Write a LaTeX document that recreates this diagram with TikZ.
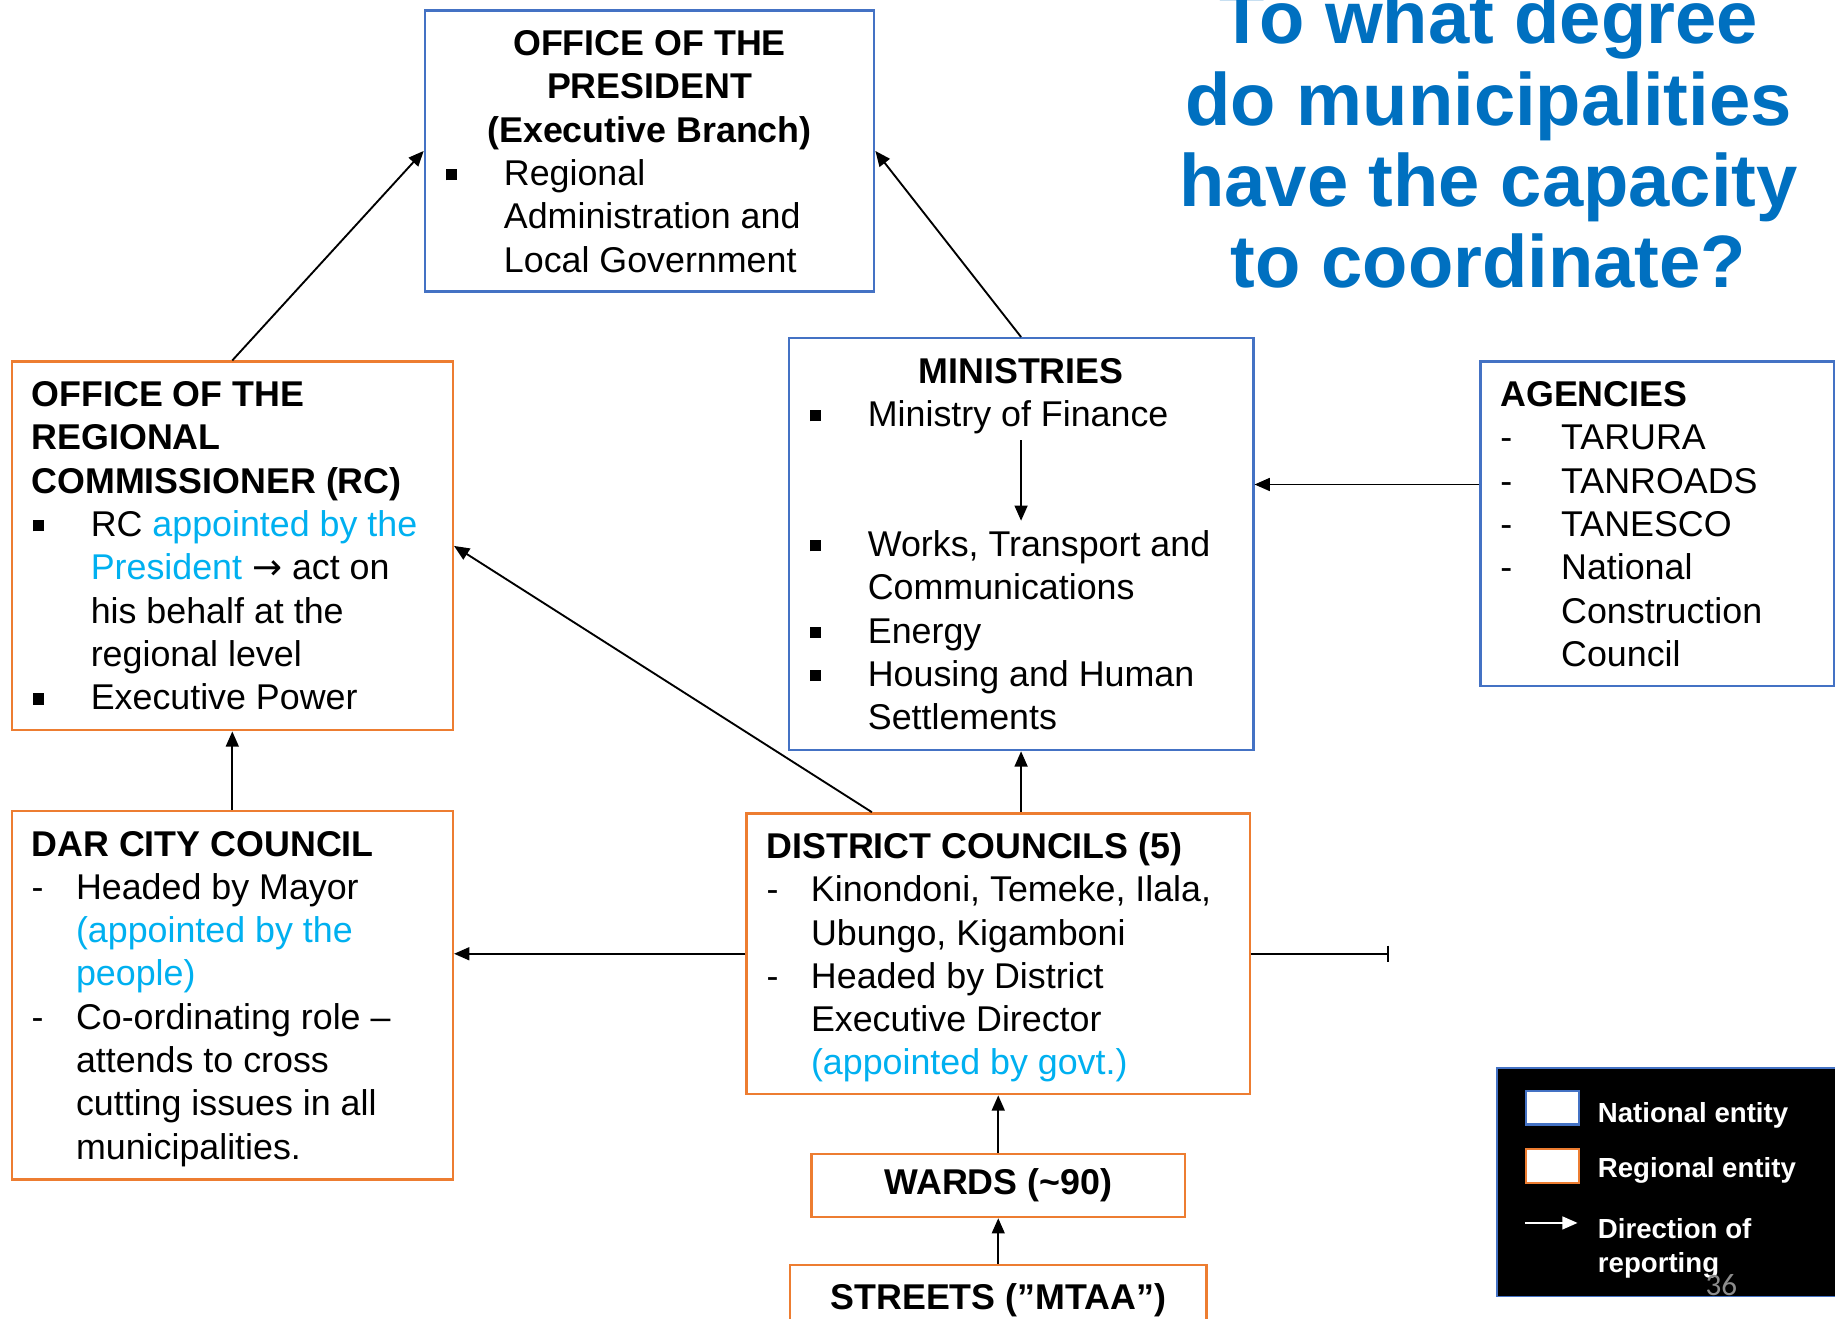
\documentclass[tikz,border=0pt]{standalone}
\usepackage{fontspec}
\setmainfont{Liberation Sans}
\newfontfamily\slidenum{Carlito}
\newfontfamily\arrowfont{DejaVu Sans}
\usetikzlibrary{positioning,calc,arrows.meta}

\definecolor{natblue}{HTML}{4472C4}
\definecolor{regorange}{HTML}{ED7D31}
\definecolor{headblue}{HTML}{0070C0}
\definecolor{apptblue}{HTML}{00B0F0}

% box contents: width, height, lines
\newcommand{\boxbody}[3]{\parbox[t][#2][t]{#1}{\raggedright\strut#3}}
\newcommand{\sqitem}{\makebox[25.3pt][l]{\hspace{0.5pt}\rule[2.2pt]{4.8pt}{4.8pt}}}
\newcommand{\dashitem}[1][19pt]{\makebox[#1][l]{-}}
\newcommand{\contline}[1][25.3pt]{\hspace*{#1}}
\newcommand{\appt}[1]{\textcolor{apptblue}{#1}}

\begin{document}
\begin{tikzpicture}[x=0.5pt, y=-0.5pt, font=\fontsize{15.3}{18.5}\selectfont,
  national/.style={draw=natblue, line width=1pt, anchor=north west, inner xsep=8.5pt, inner ysep=6.3pt},
  regional/.style={national, draw=regorange},
  tag/.style={draw=regorange, line width=1pt, font=\fontsize{15.3}{18.5}\selectfont\bfseries},
  flow/.style={-{Triangle[length=6.5pt,width=5.5pt]}, line width=0.8pt},
  keytext/.style={text=white, font=\fontsize{11.8}{14.5}\selectfont\bfseries, anchor=base west, inner sep=0pt, align=left}]
  \path[use as bounding box, clip] (0,0) rectangle (1568,1127);
  \fill[white] (0,0) rectangle (1568,1127);

  % question (base = last line)
  \node[anchor=base, align=center, text=headblue, font=\fontsize{31.7}{34.75}\selectfont\bfseries] (q) at (1272,246)
    {To what degree\\do municipalities\\have the capacity\\to coordinate?};

  % national level
  \node[national] (pres) at (362,8) {\boxbody{175pt}{107.4pt}{%
    {\centering\bfseries OFFICE OF THE\\PRESIDENT\\(Executive Branch)\par}
    \sqitem Regional\\
    \contline Administration and\\
    \contline Local Government}};
  \node[national] (min) at (673,288) {\boxbody{181.5pt}{163.4pt}{%
    {\centering\bfseries MINISTRIES\par}
    \sqitem Ministry of Finance\\[37pt]
    \sqitem Works, Transport and\\
    \contline Communications\\
    \sqitem Energy\\
    \sqitem Housing and Human\\
    \contline Settlements}};
  \node[national] (ag) at (1264,308) {\boxbody{134pt}{125.9pt}{%
    {\bfseries AGENCIES}\\
    \dashitem[26pt]TARURA\\
    \dashitem[26pt]TANROADS\\
    \dashitem[26pt]TANESCO\\
    \dashitem[26pt]National\\
    \contline[26pt]Construction\\
    \contline[26pt]Council}};

  % regional level
  \node[regional] (rc) at (9,308) {\boxbody{171.5pt}{144.9pt}{%
    {\bfseries OFFICE OF THE\\REGIONAL\\COMMISSIONER (RC)}\\
    \sqitem RC \appt{appointed by the}\\
    \contline\appt{President} {\arrowfont →} act on\\
    \contline his behalf at the\\
    \contline regional level\\
    \sqitem Executive Power}};
  \node[regional, below=33.5pt of rc] (dar) {\boxbody{171.5pt}{144.9pt}{%
    {\bfseries DAR CITY COUNCIL}\\
    \dashitem Headed by Mayor\\
    \contline[19pt]\appt{(appointed by the}\\
    \contline[19pt]\appt{people)}\\
    \dashitem Co-ordinating role –\\
    \contline[19pt]attends to cross\\
    \contline[19pt]cutting issues in all\\
    \contline[19pt]municipalities.}};
  \node[regional] (dc) at (637,694) {\boxbody{198pt}{107.4pt}{%
    {\bfseries DISTRICT COUNCILS (5)}\\
    \dashitem Kinondoni, Temeke, Ilala,\\
    \contline[19pt]Ubungo, Kigamboni\\
    \dashitem Headed by District\\
    \contline[19pt]Executive Director\\
    \contline[19pt]\appt{(appointed by govt.)}}};
  \node[tag, minimum width=159.5pt, minimum height=27pt, below=24.5pt of dc] (wd) {WARDS (\textasciitilde90)};
  \node[tag, minimum width=178pt, minimum height=30pt, below=19.5pt of wd] (st) {STREETS (”MTAA”)};

  % reporting lines
  \coordinate (finfrom) at ($(min.north)+(0,88)$);
  \coordinate (finto) at ($(min.north)+(0,157)$);
  \draw[flow] (finfrom) -- (finto);
  \draw[flow] (rc.north) -- (pres.west);
  \draw[flow] (min.north) -- (pres.east);
  \draw[flow] ([yshift=-53pt]ag.north west) coordinate (agout) -- (agout -| min.east);
  \draw[flow] ([xshift=54pt]dc.north west) -- (rc.east);
  \draw[flow] (min.south |- dc.north) -- (min.south);
  \draw[flow] (dar.north) -- (rc.south);
  \draw[flow] (dc.west) -- (dc.west -| dar.east);
  \coordinate[right=59pt of dc] (loose);
  \draw[-{Bar[width=7pt]}, line width=0.8pt] (dc.east) -- (loose);
  \draw[flow] (wd.north) -- (dc.south);
  \draw[flow] (st.north) -- (wd.south);

  % key
  \node[draw=natblue, fill=black, line width=0.8pt, minimum width=150pt, minimum height=97.5pt, anchor=north west] (key) at (1278,912) {};
  \node[draw=natblue, fill=white, line width=1pt, inner sep=0pt, minimum width=22.5pt, minimum height=14.5pt, anchor=north west] (keynat) at (1303,931) {};
  \node[draw=regorange, fill=white, line width=1pt, inner sep=0pt, minimum width=22.5pt, minimum height=14.5pt, anchor=north west] (keyreg) at (1303,981) {};
  \coordinate (keyfrom) at (1303,1045);
  \coordinate (keyto) at (1348,1045);
  \draw[flow, white] (keyfrom) -- (keyto);
  \node[keytext] (natlabel) at (1365,959) {National entity};
  \node[keytext] (reglabel) at (1365,1006) {Regional entity};
  \node[keytext] (flowlabel) at (1365,1087) {Direction of\\reporting};
  \node[anchor=base west, inner sep=0pt, text=black!45, font=\slidenum\fontsize{13.3}{16}\selectfont] (pagenum) at (1457,1107) {36};
\end{tikzpicture}
\end{document}
